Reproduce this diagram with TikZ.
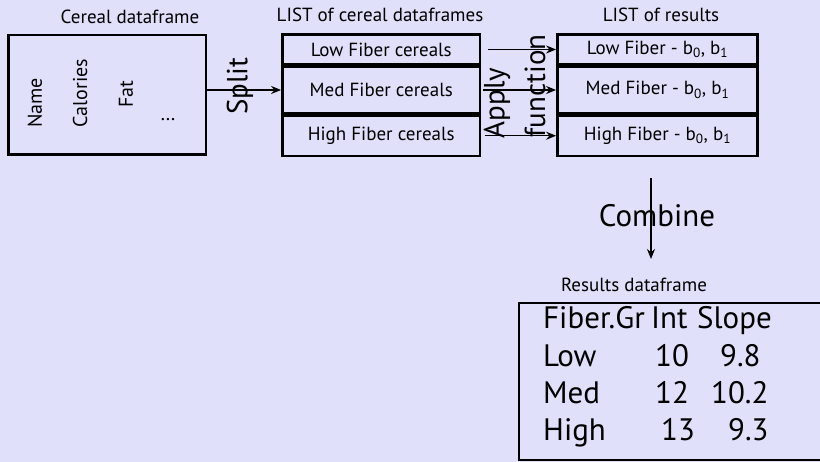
\documentclass[tikz,border=0pt]{standalone}
\usepackage{fontspec}
\setmainfont{PT Sans}
\usetikzlibrary{arrows.meta}
\definecolor{bgcol}{RGB}{224,224,250}

\begin{document}
\begin{tikzpicture}[x=1pt,y=-1pt,>={Stealth[length=10pt,width=8pt]}]
  \tikzset{frame/.style={draw,line width=2.8pt,minimum width=#1,inner sep=0pt},
           lbl/.style={font=\fontsize{19}{21}\selectfont},
           big/.style={font=\fontsize{29}{31}\selectfont},
           vert/.style={rotate=90,font=\fontsize{20}{22}\selectfont},
           cell/.style={anchor=base west,inner sep=0pt,font=\fontsize{31}{33}\selectfont}}

  \useasboundingbox (0,0) rectangle (820,462);
  \clip (0,0) rectangle (820,462);
  \fill[bgcol] (0,0) rectangle (820,462);

  \node[lbl] (t1) at (130,17) {Cereal dataframe};
  \node[lbl] (t2) at (380,15) {LIST of cereal dataframes};
  \node[lbl] (t3) at (661,15) {LIST of results};

  \node[frame=197.5,minimum height=119.5] (df) at (107.25,94.75) {};
  \node[vert] (name) at (35,103) {Name};
  \node[vert] (cal) at (80,93) {Calories};
  \node[vert] (fat) at (126,94) {Fat};
  \node[lbl,font=\fontsize{20}{22}\selectfont] (dots) at (168,120) {\dots};

  \node[frame=197.5,minimum height=30,lbl] (low) at (381.25,49.5) {Low Fiber cereals};
  \node[frame=197.5,minimum height=47,lbl] (med) at (381.25,90) {Med Fiber cereals};
  \node[frame=197.5,minimum height=40.5,lbl] (high) at (381.25,135.75) {High Fiber cereals};

  \node[frame=200,minimum height=30,lbl] (rlow) at (657.5,49.5) {Low Fiber - b\textsubscript{0}, b\textsubscript{1}};
  \node[frame=200,minimum height=47,lbl] (rmed) at (657.5,90) {Med Fiber - b\textsubscript{0}, b\textsubscript{1}};
  \node[frame=200,minimum height=40.5,lbl] (rhigh) at (657.5,135.75) {High Fiber - b\textsubscript{0}, b\textsubscript{1}};

  \draw[line width=1.3pt,->] (df.east |- med) -- (med.west);
  \node[big,rotate=90] (split) at (240,86) {Split};

  \draw[line width=1.3pt,->,shorten <=7pt] (low.east) -- (rlow.west);
  \draw[line width=1.3pt,->,shorten <=2pt] (med.east) -- (rmed.west);
  \draw[line width=1.3pt,->,shorten <=4pt] (high.east) -- (rhigh.west);
  \node[big,rotate=90] (apply) at (497,103) {Apply};
  \node[big,rotate=90] (fun) at (535,86) {function};

  \coordinate (top) at (651,178);
  \coordinate (bot) at (651,259);
  \draw[line width=1.3pt,->] (top) -- (bot);
  \node[big,font=\fontsize{31}{33}\selectfont] (comb) at (657,216) {Combine};

  \node[lbl] (t4) at (634,285) {Results dataframe};
  \node[frame=320,minimum height=157] (tab) at (679,381.5) {};
  \node[cell] (h1) at (543,329) {Fiber.Gr};
  \node[cell] (h2) at (651,329) {Int};
  \node[cell] (h3) at (697,329) {Slope};
  \node[cell] (a1) at (543,367) {Low};
  \node[cell] (a2) at (655,367) {10};
  \node[cell] (a3) at (720,367) {9.8};
  \node[cell] (b1) at (543,404) {Med};
  \node[cell] (b2) at (655,404) {12};
  \node[cell] (b3) at (711,404) {10.2};
  \node[cell] (c1) at (543,441) {High};
  \node[cell] (c2) at (661,441) {13};
  \node[cell] (c3) at (728,441) {9.3};
\end{tikzpicture}
\end{document}
